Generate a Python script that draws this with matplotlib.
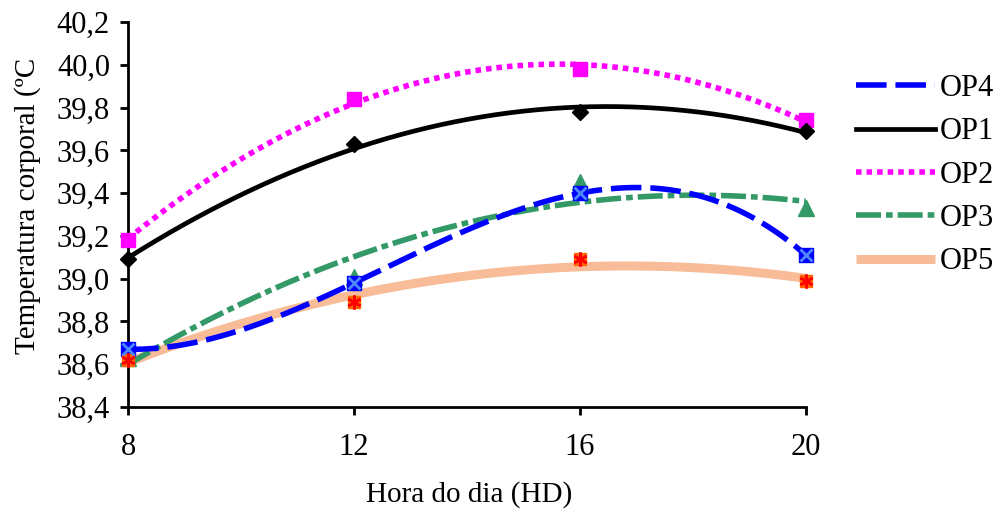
import numpy as np
import matplotlib
matplotlib.use("Agg")
import matplotlib.pyplot as plt

hours = [8, 12, 16, 20]
op1 = [39.09, 39.63, 39.78, 39.69]
op2 = [39.18, 39.84, 39.98, 39.74]
op3 = [38.63, 39.01, 39.45, 39.33]
op4 = [38.67, 38.98, 39.40, 39.11]
op5 = [38.62, 38.89, 39.09, 38.99]
y_ticks = [38.4, 38.6, 38.8, 39.0, 39.2, 39.4, 39.6, 39.8, 40.0, 40.2]
x_ticks = [8, 12, 16, 20]

plt.rcParams['font.family'] = ['Liberation Serif', 'DejaVu Serif']

fig = plt.figure(figsize=(9.97, 5.19), dpi=100)
ax = fig.add_axes([128/997, 1-407/519, (806-128)/997, (407-22)/519])

xs = np.linspace(8, 20, 300)
def trend(y, deg):
    c = np.polyfit(hours, y, deg)
    return np.polyval(c, xs)

# trendlines
l5, = ax.plot(xs, trend(op5, 2), color='#f8bc98', lw=6.5, solid_capstyle='butt', zorder=2)
l3, = ax.plot(xs, trend(op3, 2), color='#339966', lw=4, linestyle=(0, (4.5, 0.9, 1.2, 0.9)), zorder=3)
l4, = ax.plot(xs, trend(op4, 3), color='#0000ff', lw=4, linestyle=(0, (5.5, 1.6)), zorder=4)
l1, = ax.plot(xs, trend(op1, 2), color='black', lw=3.4, zorder=5)
l2, = ax.plot(xs, trend(op2, 2), color='#ff00ff', lw=4, linestyle=(0, (1.0, 0.9)), zorder=5)

# markers
ax.plot(hours, op2, marker='s', linestyle='none', color='#ff00ff', ms=10, zorder=6, clip_on=False)
ax.plot(hours, op1, marker='D', linestyle='none', color='black', ms=8, zorder=6, clip_on=False)
ax.plot(hours, op3, marker='^', linestyle='none', color='#339966', ms=12, zorder=6, clip_on=False)
ax.plot(hours, op4, marker='s', linestyle='none', color='#0000ff', ms=10, zorder=6, clip_on=False)
ax.plot(hours, op4, marker='x', linestyle='none', color='#4d88ff', ms=9, mew=2, zorder=7, clip_on=False)
ax.plot(hours, op5, marker='s', linestyle='none', color='#ff6600', ms=9, zorder=6, clip_on=False)
ax.plot(hours, op5, marker=(6, 2, 0), linestyle='none', color='#ff0000', ms=10, mew=1.8, zorder=7, clip_on=False)

ax.set_xlim(8, 20)
ax.set_ylim(38.4, 40.2)
ax.set_xticks(x_ticks)
ax.set_xticklabels([str(v) for v in x_ticks])
ax.set_yticks(y_ticks)
ax.set_yticklabels([f"{v:.1f}".replace('.', ',') for v in y_ticks])
for s in ['top', 'right']:
    ax.spines[s].set_visible(False)
for s in ['left', 'bottom']:
    ax.spines[s].set_linewidth(2)
ax.tick_params(axis='both', direction='out', length=6, width=2, labelsize=22)
ax.tick_params(axis='x', pad=13)
ax.tick_params(axis='y', pad=7)

fig.text(469/997, 1-495/519, 'Hora do dia (HD)', ha='center', va='center', fontsize=21)
fig.text(28/997, 1-206/519, 'Temperatura corporal (ºC', ha='center', va='center',
         rotation=90, fontsize=21)

leg = fig.legend([l4, l1, l2, l3, l5], ['OP4', 'OP1', 'OP2', 'OP3', 'OP5'],
                 loc='upper left', bbox_to_anchor=(856/997, 1-74/519),
                 frameon=False, fontsize=22, handlelength=2.6, handletextpad=0.15,
                 labelspacing=0.47, borderpad=0, borderaxespad=0)

fig.savefig('out.png', dpi=100)
